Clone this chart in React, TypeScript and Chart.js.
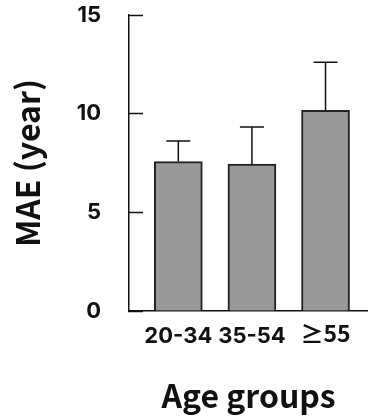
import React, { useEffect, useRef } from "react";
import { Chart, registerables } from "chart.js";

Chart.register(...registerables);

const categories = ["20-34", "35-54", "≥55"];
const maeValues = [7.57, 7.45, 10.17];
const errorValues = [1.05, 1.88, 2.43];
const yTicks = [0, 5, 10, 15];

const TITLE_FONT = "'Noto Sans CJK JP', 'Noto Sans', sans-serif";
const TICK_FONT = "Inter, 'Noto Sans CJK JP', sans-serif";
const CJK_FONT = "'Noto Sans CJK JP', sans-serif";

const errorBarPlugin = {
  id: "errorBars",
  afterDatasetsDraw(chart: any) {
    const { ctx } = chart;
    const meta = chart.getDatasetMeta(0);
    const yScale = chart.scales.y;
    ctx.save();
    ctx.strokeStyle = "#111";
    ctx.lineWidth = 1.5;
    meta.data.forEach((bar: any, i: number) => {
      const x = bar.x;
      const yTop = yScale.getPixelForValue(maeValues[i] + errorValues[i]);
      const yBase = bar.y;
      const half = bar.width / 4;
      ctx.beginPath();
      ctx.moveTo(x, yBase);
      ctx.lineTo(x, yTop);
      ctx.moveTo(x - half, yTop);
      ctx.lineTo(x + half, yTop);
      ctx.stroke();
    });
    ctx.restore();
  },
};

export default function App() {
  const canvasRef = useRef<HTMLCanvasElement | null>(null);

  useEffect(() => {
    const canvas = canvasRef.current;
    if (!canvas) return;
    const chart = new Chart(canvas, {
      type: "bar",
      data: {
        datasets: [
          {
            data: categories.map((_, i) => ({ x: i, y: maeValues[i] })),
            backgroundColor: "#999999",
            borderColor: "#222222",
            borderWidth: 2,
            barThickness: 48,
          },
        ],
      },
      options: {
        animation: false,
        responsive: false,
        maintainAspectRatio: false,
        layout: { padding: { top: 15, right: 0, bottom: 0, left: 0 } },
        plugins: { legend: { display: false }, tooltip: { enabled: false } },
        scales: {
          x: {
            type: "linear",
            offset: false,
            min: -0.67,
            max: 2.577,
            afterBuildTicks: (scale: any) => {
              scale.ticks = categories.map((_, i) => ({ value: i }));
            },
            afterFit: (scale: any) => {
              scale.height = 108;
              scale.paddingLeft = 0;
              scale.paddingRight = 0;
            },
            grid: { display: false, drawTicks: false, offset: false },
            border: { display: true, color: "#111", width: 1.5 },
            ticks: {
              padding: 12,
              color: "#111",
              font: (ctx: any) => {
                const label = String(ctx?.tick?.label ?? "");
                return /[^\x00-\x7F]/.test(label)
                  ? { family: CJK_FONT, size: 23, weight: "bold", lineHeight: 0.85 }
                  : { family: TICK_FONT, size: 22, weight: "bold" };
              },
              callback: (v: any) => categories[v] ?? "",
            },
            title: {
              display: true,
              text: "Age groups",
              color: "#111",
              font: { family: TITLE_FONT, size: 32, weight: "bold" },
              padding: { top: 0, bottom: 4 },
            },
          },
          y: {
            min: 0,
            max: 15,
            afterBuildTicks: (scale: any) => {
              scale.ticks = yTicks.map((v) => ({ value: v }));
            },
            afterFit: (scale: any) => {
              scale.width = 129;
              scale.paddingTop = 0;
              scale.paddingBottom = 0;
            },
            grid: {
              display: true,
              drawOnChartArea: false,
              drawTicks: true,
              tickLength: -14,
              color: "#111",
              tickWidth: 1.5,
            },
            border: { display: true, color: "#111", width: 1.5 },
            ticks: {
              padding: 42,
              color: "#111",
              font: { family: TICK_FONT, size: 22, weight: "bold" },
            },
            title: {
              display: true,
              text: "MAE (year)",
              color: "#111",
              font: { family: TITLE_FONT, size: 32, weight: "bold" },
              padding: { top: 9, bottom: 0 },
            },
          },
        },
      },
      plugins: [errorBarPlugin],
    });
    return () => chart.destroy();
  }, []);

  return (
    <div style={{ position: "absolute", left: 0, top: 0, width: 368, height: 419, background: "#fff" }}>
      <canvas ref={canvasRef} width={368} height={419} style={{ width: 368, height: 419, display: "block" }} />
    </div>
  );
}
